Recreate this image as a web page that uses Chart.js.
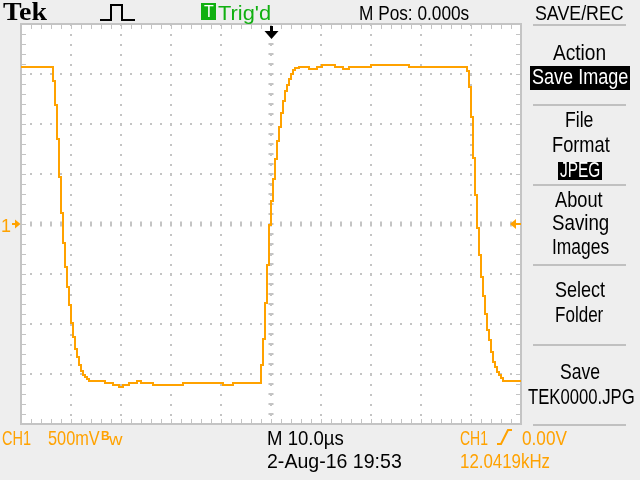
<!DOCTYPE html>
<html>
<head>
<meta charset="utf-8">
<script src="https://cdn.jsdelivr.net/npm/chart.js@4.4.1/dist/chart.umd.min.js"></script>
<style>
  html, body { margin: 0; padding: 0; background: #eeeeee; overflow: hidden; }
  #wrap { position: relative; width: 640px; height: 480px; background: #eeeeee; }
  #scope { position: absolute; left: 0; top: 0; }
  .t {
    position: absolute; white-space: nowrap; line-height: 1;
    font-family: "Liberation Sans Narrow", "Liberation Sans", sans-serif;
    transform-origin: 0 0; color: #000;
  }
  .f21 { font-size: 21px; line-height: 21px; }
  .f22 { font-size: 22px; line-height: 22px; }
  .ch1 { color: #ffa200; }
  .inv { color: #fff; }
  .box { position: absolute; background: #000; }
  .sep { position: absolute; left: 533px; width: 93px; height: 2px; background: #c0c0c0; }
</style>
</head>
<body>
<div id="wrap">
  <canvas id="scope" width="640" height="480"></canvas>

  <!-- status bar -->
  <div class="t" data-w="44" style="left:3px;top:-1px;font-family:'Liberation Serif',serif;font-weight:bold;font-size:26px;line-height:26px;">Tek</div>
  <svg style="position:absolute;left:0;top:0" width="160" height="24">
    <polyline points="100,20 111,20 111,5 122,5 122,20 135,20" fill="none" stroke="#000" stroke-width="2"/>
  </svg>
  <div class="box" style="left:201px;top:3px;width:15px;height:17px;background:#11b011"></div>
  <div class="t inv" style="left:204px;top:4px;font-size:16px;line-height:16px;">T</div>
  <div class="t f21" data-w="53" style="left:218px;top:2.2px;color:#11b011">Trig'd</div>
  <div class="t f21" data-w="110" style="left:359px;top:2.2px">M Pos: 0.000s</div>
  <div class="t f21" data-w="89" style="left:535px;top:2.2px">SAVE/REC</div>

  <!-- side menu -->
  <div class="sep" style="top:24px"></div>
  <div class="sep" style="top:104px"></div>
  <div class="sep" style="top:184px"></div>
  <div class="sep" style="top:264px"></div>
  <div class="sep" style="top:344px"></div>
  <div class="sep" style="top:424px"></div>
  <div class="t f22" data-w="53" style="left:553px;top:42.4px">Action</div>
  <div class="box" style="left:530px;top:66px;width:100px;height:24px"></div>
  <div class="t f22 inv" data-w="96" style="left:532px;top:66.4px">Save Image</div>
  <div class="t f22" data-w="28" style="left:565px;top:109.4px">File</div>
  <div class="t f22" data-w="58" style="left:552px;top:134.4px">Format</div>
  <div class="box" style="left:558px;top:162px;width:44px;height:18px"></div>
  <div class="t f22 inv" data-w="40" style="left:560px;top:159.4px">JPEG</div>
  <div class="t f22" data-w="48" style="left:555px;top:189.4px">About</div>
  <div class="t f22" data-w="57" style="left:552px;top:212.4px">Saving</div>
  <div class="t f22" data-w="57" style="left:552px;top:236.4px">Images</div>
  <div class="t f22" data-w="50" style="left:555px;top:279.4px">Select</div>
  <div class="t f22" data-w="48" style="left:555px;top:304.4px">Folder</div>
  <div class="t f22" data-w="40" style="left:560px;top:361.4px">Save</div>
  <div class="t f22" data-w="107" style="left:528px;top:386.4px">TEK0000.JPG</div>

  <!-- ground marker label -->
  <div class="t ch1" style="left:1px;top:216.8px;font-size:18px;line-height:18px;">1</div>

  <!-- bottom readout -->
  <div class="t f21 ch1" data-w="29" style="left:2px;top:427.2px">CH1</div>
  <div class="t f21 ch1" data-w="52" style="left:48px;top:427.2px">500mV</div>
  <div class="t ch1" style="left:101px;top:430px;font-size:12px;line-height:12px;font-weight:bold">B</div>
  <div class="t ch1" data-w="14" style="left:109px;top:432px;font-size:16px;line-height:16px;">w</div>
  <div class="t f21" data-w="77" style="left:267px;top:427.2px">M 10.0µs</div>
  <div class="t f21" data-w="135" style="left:267px;top:450.2px">2-Aug-16 19:53</div>
  <div class="t f21 ch1" data-w="28" style="left:460px;top:427.2px">CH1</div>
  <svg style="position:absolute;left:496px;top:428px" width="20" height="20">
    <polyline points="1,16 5,16 12,2 16,2" fill="none" stroke="#ffa200" stroke-width="2"/>
  </svg>
  <div class="t f21 ch1" data-w="45" style="left:522px;top:427.2px">0.00V</div>
  <div class="t f21 ch1" data-w="90" style="left:460px;top:450.2px">12.0419kHz</div>
</div>

<script>
// CH1 acquisition: time in microseconds, level in volts.
// Each point is where the trace steps to a new level.
const timeUs = [
  -50.0, -43.6, -43.2, -42.8, -42.4, -42.0, -41.6, -41.2, -40.8, -40.4,
  -40.0, -39.6, -39.2, -38.8, -38.4, -38.0, -37.6, -37.2, -36.8, -36.4,
  -33.2, -31.6, -30.4, -29.6, -28.4, -26.8, -26.0, -23.6, -17.6, -9.6,
  -7.6, -2.0, -1.6, -1.2, -0.8, -0.4, 0.0, 0.4, 0.8, 1.2,
  1.6, 2.0, 2.4, 2.8, 3.2, 3.6, 4.0, 4.4, 4.8, 5.6,
  7.6, 9.2, 10.2, 12.8, 14.4, 15.6, 20.0, 27.6, 39.2, 39.6,
  40.0, 40.4, 40.8, 41.2, 41.6, 42.0, 42.4, 42.8, 43.2, 43.6,
  44.0, 44.4, 44.8, 45.2, 45.6, 46.0, 46.4, 50.0
];
const ch1Volts = [
  1.57, 1.43, 1.19, 0.85, 0.47, 0.11, -0.19, -0.43, -0.63, -0.81,
  -0.99, -1.13, -1.25, -1.33, -1.41, -1.47, -1.51, -1.53, -1.55, -1.57,
  -1.59, -1.61, -1.63, -1.61, -1.59, -1.57, -1.59, -1.61, -1.59, -1.61,
  -1.59, -1.41, -1.15, -0.79, -0.41, -0.01, 0.23, 0.45, 0.65, 0.83,
  0.97, 1.11, 1.23, 1.33, 1.39, 1.45, 1.50, 1.54, 1.56, 1.57,
  1.55, 1.57, 1.59, 1.57, 1.55, 1.57, 1.59, 1.57, 1.53, 1.37,
  1.07, 0.66, 0.29, -0.04, -0.31, -0.53, -0.72, -0.90, -1.06, -1.16,
  -1.28, -1.38, -1.43, -1.48, -1.51, -1.54, -1.57, -1.57
];

// 10 us/div over 10 divisions, 500 mV/div over 8 divisions
const timeRange = [-50, 50];
const voltRange = [-2, 2];
const timePerDiv = 10;
const voltsPerDiv = 0.5;
const triggerTimeUs = 0;
const triggerLevelV = 0;
const groundV = 0;

const ch1Color = '#ffa200';
const gridColor = '#c4c4c4';

// frame, minor ticks and the on-screen markers
const graticule = {
    id: 'graticule',
    beforeDraw(chart) {
        const { ctx, chartArea: a } = chart;
        ctx.save();
        ctx.fillStyle = '#ffffff';
        ctx.fillRect(a.left, a.top, a.right - a.left, a.bottom - a.top);
        ctx.restore();
    },
    beforeDatasetsDraw(chart) {
        const { ctx, chartArea: a, scales: { x, y } } = chart;
        ctx.save();
        ctx.strokeStyle = gridColor;
        ctx.lineWidth = 2;
        ctx.strokeRect(a.left, a.top, a.right - a.left, a.bottom - a.top);

        const cx = Math.round(x.getPixelForValue(0));
        const cy = Math.round(y.getPixelForValue(0));
        const xStep = timePerDiv / 5;
        const yStep = voltsPerDiv / 5;

        ctx.beginPath();
        ctx.lineWidth = 1;
        for (let t = timeRange[0] + xStep; t < timeRange[1] - 0.001; t += xStep) {
            const px = Math.round(x.getPixelForValue(t)) + 0.5;
            ctx.moveTo(px, a.top); ctx.lineTo(px, a.top + 5);
            ctx.moveTo(px, a.bottom); ctx.lineTo(px, a.bottom - 5);
        }
        for (let v = voltRange[0] + yStep; v < voltRange[1] - 0.001; v += yStep) {
            const py = Math.round(y.getPixelForValue(v)) + 0.5;
            ctx.moveTo(a.left, py); ctx.lineTo(a.left + 5, py);
            ctx.moveTo(a.right, py); ctx.lineTo(a.right - 5, py);
        }
        ctx.stroke();

        ctx.beginPath();
        ctx.lineWidth = 2;
        for (let t = timeRange[0] + xStep; t < timeRange[1] - 0.001; t += xStep) {
            const px = Math.round(x.getPixelForValue(t));
            ctx.moveTo(px, cy - 2.5); ctx.lineTo(px, cy + 2.5);
        }
        for (let v = voltRange[0] + yStep; v < voltRange[1] - 0.001; v += yStep) {
            const py = Math.round(y.getPixelForValue(v));
            ctx.moveTo(cx - 2.5, py); ctx.lineTo(cx + 2.5, py);
        }
        ctx.stroke();
        ctx.restore();
    },
    afterDatasetsDraw(chart) {
        const { ctx, chartArea: a, scales: { x, y } } = chart;
        ctx.save();
        // trigger position
        const tx = Math.round(x.getPixelForValue(triggerTimeUs));
        ctx.fillStyle = '#000';
        ctx.fillRect(tx - 1, a.top + 2, 3, 6);
        ctx.beginPath();
        ctx.moveTo(tx - 6.5, a.top + 7);
        ctx.lineTo(tx + 7.5, a.top + 7);
        ctx.lineTo(tx + 0.5, a.top + 15);
        ctx.closePath();
        ctx.fill();

        // ground reference on the left
        ctx.fillStyle = ch1Color;
        const gy = Math.round(y.getPixelForValue(groundV));
        ctx.fillRect(12, gy - 1, 4, 2);
        ctx.beginPath();
        ctx.moveTo(15, gy - 4.5);
        ctx.lineTo(20.5, gy);
        ctx.lineTo(15, gy + 4.5);
        ctx.closePath();
        ctx.fill();

        // trigger level on the right
        const ly = Math.round(y.getPixelForValue(triggerLevelV));
        ctx.fillRect(a.right - 5, ly - 1, 5, 2);
        ctx.beginPath();
        ctx.moveTo(a.right - 11, ly);
        ctx.lineTo(a.right - 5, ly - 5);
        ctx.lineTo(a.right - 5, ly + 5);
        ctx.closePath();
        ctx.fill();
        ctx.restore();
    }
};

new Chart(document.getElementById('scope'), {
    type: 'line',
    data: {
        datasets: [{
            label: 'CH1',
            data: timeUs.map((t, i) => ({ x: t, y: ch1Volts[i] })),
            borderColor: ch1Color,
            borderWidth: 2,
            pointRadius: 0,
            stepped: true,
            fill: false
        }]
    },
    options: {
        responsive: false,
        animation: false,
        layout: { padding: { left: 21, top: 24, right: 119, bottom: 56 } },
        plugins: {
            legend: { display: false },
            tooltip: { enabled: false }
        },
        scales: {
            x: {
                type: 'linear',
                min: timeRange[0],
                max: timeRange[1],
                ticks: { display: false, stepSize: timePerDiv },
                grid: { color: gridColor, lineWidth: 2, drawTicks: false },
                border: { display: false, dash: [2, 8], dashOffset: 0 }
            },
            y: {
                type: 'linear',
                min: voltRange[0],
                max: voltRange[1],
                ticks: { display: false, stepSize: voltsPerDiv },
                grid: { color: gridColor, lineWidth: 2, drawTicks: false },
                border: { display: false, dash: [2, 8], dashOffset: 1 }
            }
        }
    },
    plugins: [graticule]
});

// squeeze the readout text to the widths seen on the scope screen
document.querySelectorAll('[data-w]').forEach(el => {
    const w = +el.dataset.w;
    el.style.transform = 'scaleX(' + (w / el.offsetWidth) + ')';
});
</script>
</body>
</html>
